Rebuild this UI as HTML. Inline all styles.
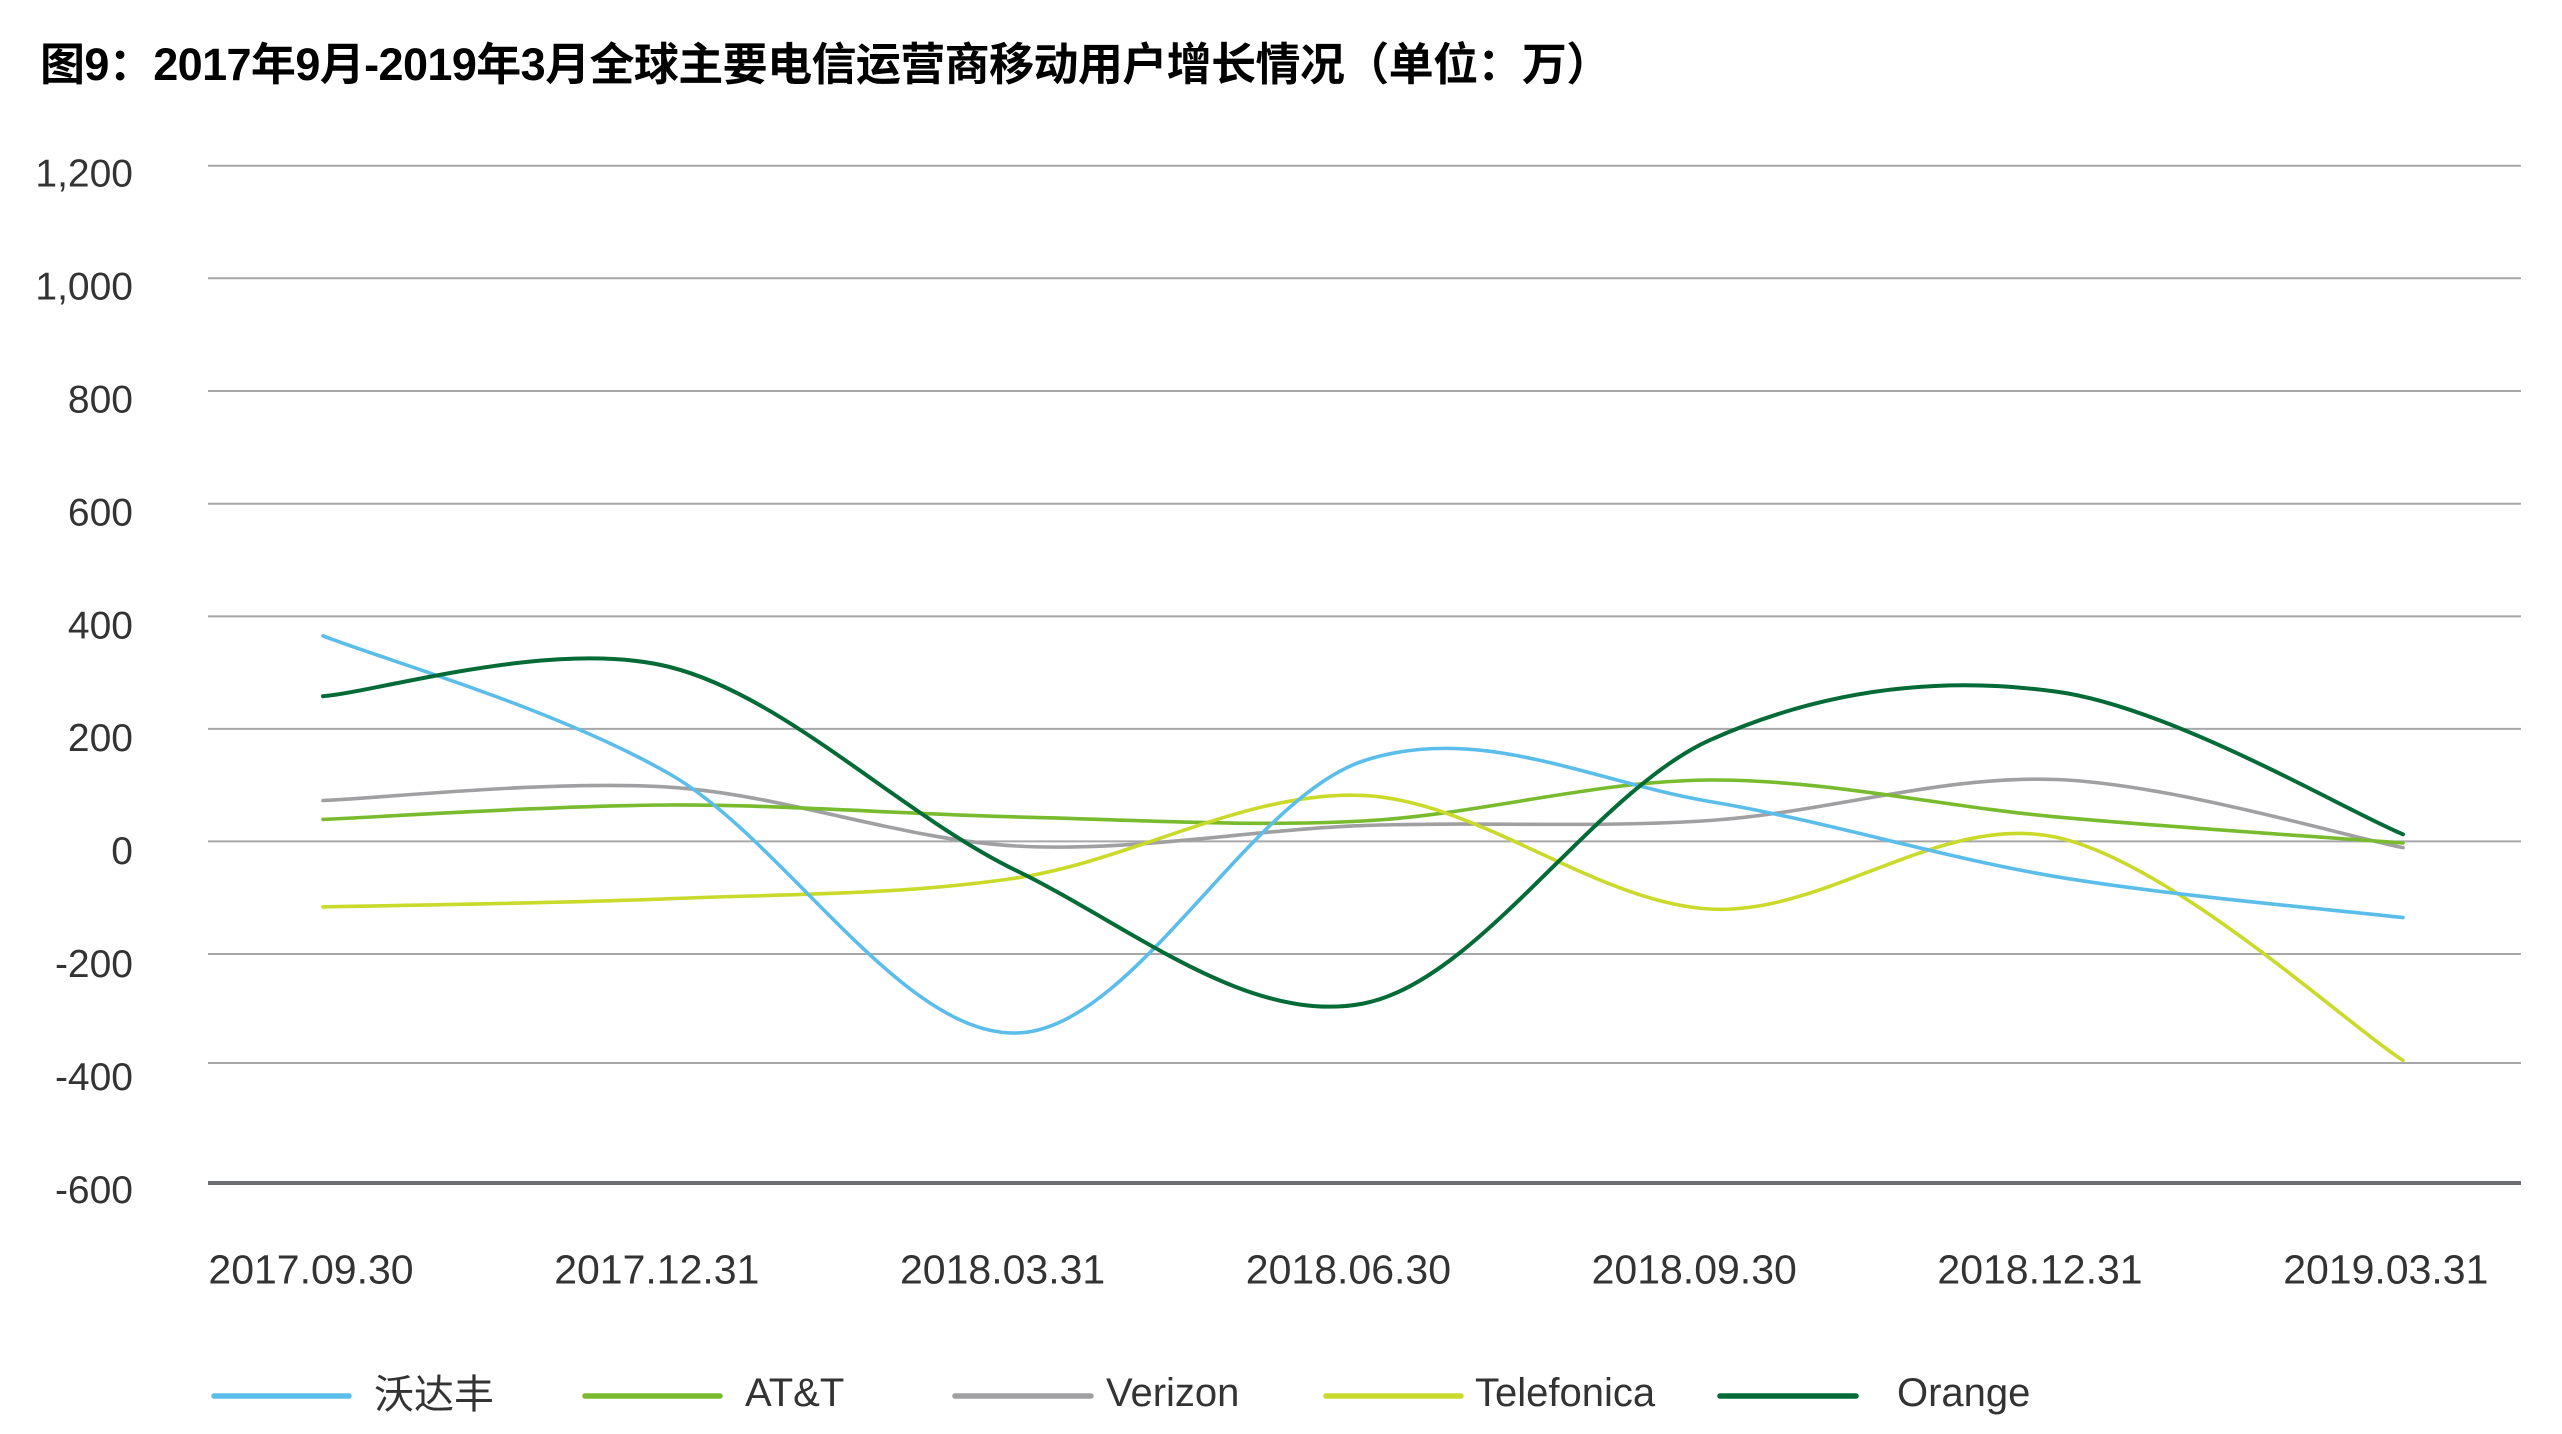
<!DOCTYPE html>
<html>
<head>
<meta charset="utf-8">
<style>
  html,body{margin:0;padding:0;background:#fff;}
  body{width:2562px;height:1434px;overflow:hidden;}
  svg{display:block;}
</style>
</head>
<body>
<svg width="2562" height="1434" viewBox="0 0 2562 1434" xmlns="http://www.w3.org/2000/svg">
  <rect x="0" y="0" width="2562" height="1434" fill="#ffffff"/>

  <!-- Title -->
  <text x="40" y="80" font-family="'Liberation Sans','Noto Sans CJK SC',sans-serif" font-weight="bold" font-size="45" letter-spacing="-0.6" fill="#000">图9：2017年9月-2019年3月全球主要电信运营商移动用户增长情况（单位：万）</text>

  <!-- Gridlines -->
  <g stroke="#a7a7a9" stroke-width="2" fill="none">
    <line x1="208" y1="165.7" x2="2521" y2="165.7"/>
    <line x1="208" y1="278.3" x2="2521" y2="278.3"/>
    <line x1="208" y1="391" x2="2521" y2="391"/>
    <line x1="208" y1="503.8" x2="2521" y2="503.8"/>
    <line x1="208" y1="616.4" x2="2521" y2="616.4"/>
    <line x1="208" y1="728.9" x2="2521" y2="728.9"/>
    <line x1="208" y1="841.4" x2="2521" y2="841.4"/>
    <line x1="208" y1="954" x2="2521" y2="954"/>
    <line x1="208" y1="1063" x2="2521" y2="1063"/>
  </g>
  <line x1="208" y1="1183" x2="2521" y2="1183" stroke="#6e6f72" stroke-width="4"/>

  <!-- Y axis labels -->
  <g font-family="'Liberation Sans',sans-serif" font-size="39" fill="#333" text-anchor="end">
    <text x="133" y="186.7">1,200</text>
    <text x="133" y="299.6">1,000</text>
    <text x="133" y="412.5">800</text>
    <text x="133" y="525.4">600</text>
    <text x="133" y="638.3">400</text>
    <text x="133" y="751.2">200</text>
    <text x="133" y="864.1">0</text>
    <text x="133" y="977">-200</text>
    <text x="133" y="1089.9">-400</text>
    <text x="133" y="1202.8">-600</text>
  </g>

  <!-- X axis labels -->
  <g font-family="'Liberation Sans',sans-serif" font-size="41" fill="#333" text-anchor="middle">
    <text x="311" y="1283.3">2017.09.30</text>
    <text x="656.8" y="1283.3">2017.12.31</text>
    <text x="1002.6" y="1283.3">2018.03.31</text>
    <text x="1348.4" y="1283.3">2018.06.30</text>
    <text x="1694.2" y="1283.3">2018.09.30</text>
    <text x="2040" y="1283.3">2018.12.31</text>
    <text x="2385.8" y="1283.3">2019.03.31</text>
  </g>

  <!-- Series -->
  <g fill="none" stroke-width="3.6" stroke-linecap="round" stroke-linejoin="round">
    <!-- Verizon (gray) -->
    <path stroke="#a0a0a3" d="M323,800.5 C380.8,798.3 554.1,779.6 669.7,787.2 C785.3,794.8 900.7,839.6 1016.3,846 C1131.9,852.4 1247.4,829.85 1363,825.6 C1478.6,821.35 1594.1,828.2 1709.7,820.5 C1825.3,812.8 1940.7,775 2056.3,779.5 C2171.9,784 2345.2,836.25 2403,847.6"/>
    <!-- AT&T (green) -->
    <path stroke="#78bb2e" d="M323,819.4 C380.8,817 554.1,805.42 669.7,805 C785.3,804.58 900.7,814.23 1016.3,816.9 C1131.9,819.57 1247.4,827.15 1363,821 C1478.6,814.85 1594.1,780.68 1709.7,780 C1825.3,779.32 1940.7,806.4 2056.3,816.9 C2171.9,827.4 2345.2,838.65 2403,843"/>
    <!-- Telefonica (yellow-green) -->
    <path stroke="#c9da2b" d="M323,906.9 C380.8,905.53 554.1,903.52 669.7,898.7 C785.3,893.88 900.7,895.22 1016.3,878 C1131.9,860.78 1247.4,790.23 1363,795.4 C1478.6,800.57 1594.1,902.02 1709.7,909 C1825.3,915.98 1940.7,812.07 2056.3,837.3 C2171.9,862.53 2345.2,1023.22 2403,1060.4"/>
    <!-- Vodafone (light blue) -->
    <path stroke="#5bbdea" d="M323,635.8 C380.8,658.8 554.1,707.8 669.7,774 C785.3,840.2 900.7,1035.2 1016.3,1033 C1131.9,1030.8 1247.4,799.6 1363,761 C1478.6,722.4 1594.1,782.2 1709.7,801.5 C1825.3,820.8 1940.7,857.4 2056.3,876.7 C2171.9,896.1 2345.2,910.8 2403,917.6"/>
    <!-- Orange (dark green) -->
    <path stroke="#046b36" stroke-width="4" d="M323,696.2 C380.8,691.3 554.1,637.9 669.7,667 C785.3,696.1 900.7,814.5 1016.3,870.6 C1131.9,926.7 1247.4,1025.3 1363,1003.6 C1478.6,981.9 1594.1,792.2 1709.7,740.2 C1825.3,688.2 1940.7,675.9 2056.3,691.6 C2171.9,707.3 2345.2,810.5 2403,834.3"/>
  </g>

  <!-- Legend -->
  <g stroke-width="5.5" stroke-linecap="round">
    <line x1="214" y1="1396" x2="349" y2="1396" stroke="#5bbdea"/>
    <line x1="585" y1="1396" x2="720" y2="1396" stroke="#78bb2e"/>
    <line x1="955" y1="1396" x2="1091" y2="1396" stroke="#a0a0a3"/>
    <line x1="1326" y1="1396" x2="1461" y2="1396" stroke="#c9da2b"/>
    <line x1="1720" y1="1396" x2="1856" y2="1396" stroke="#046b36"/>
  </g>
  <g font-family="'Liberation Sans','Noto Sans CJK SC',sans-serif" font-size="40" fill="#333">
    <text x="374" y="1408">沃达丰</text>
    <text x="745" y="1406">AT&amp;T</text>
    <text x="1106" y="1406">Verizon</text>
    <text x="1475" y="1406">Telefonica</text>
    <text x="1897" y="1406">Orange</text>
  </g>
</svg>
</body>
</html>
